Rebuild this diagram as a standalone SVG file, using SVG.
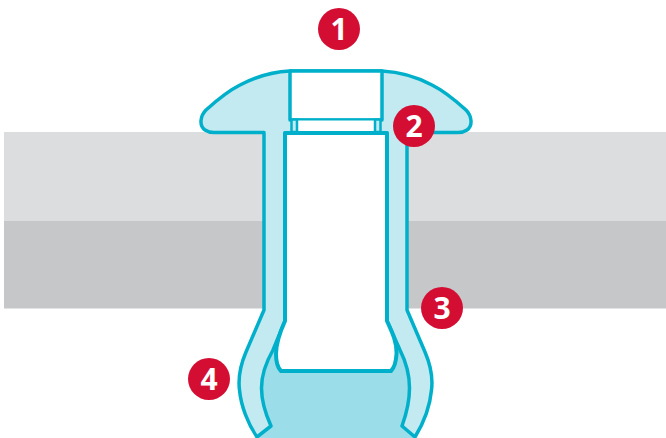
<svg xmlns="http://www.w3.org/2000/svg" width="666" height="438" viewBox="0 0 666 438">
<style>
.s{stroke:#00b0ca;stroke-linejoin:round;stroke-linecap:round}
.l{fill:#c3e9f1}
.d{fill:#9bdde9}
.w{fill:#fff}
.b{fill:#d40e33}
.t{fill:#fff;font-family:"Open Sans","Liberation Sans",sans-serif;font-weight:700;font-size:30px;text-anchor:middle}
</style>
<rect width="666" height="438" fill="#fff"/>
<rect x="4" y="132" width="662" height="89" fill="#dcddde"/>
<rect x="4" y="221" width="662" height="87.500" fill="#c6c7c9"/>
<g id="rivet">
<path class="d" d="M273 350C265 364 261.500 376 261.500 388C261.500 402 266 415 271 426L257 438H415L402 426C406 415 409.500 402 409.500 388C409.500 376 407 364 400 350L396 340L385 325H287L277 340Z"/>
<path class="s l" stroke-width="3.500" d="M290 71C270 72 255 77 240 85C228 91 217 100 206 110C200 116 199 126 205 130C208 132 211 132.500 214 132.500H264V310L246 352C240 366 238 378 239.500 390C241 406 248 424 257 437L271 426C266 415 261.500 402 261.500 388C261.500 376 265 364 273 350L285 321V133H387V321L400 350C407 364 409.500 376 409.500 388C409.500 402 406 415 402 426L415 437C423 424 430 406 431.500 390C433 378 431 366 425 352L407 310V132.500H458C461 132.500 464 132 467 130C473 126 472 116 466 110C455 100 444 91 432 85C417 77 402 72 382 71Z"/>
<path class="s w" stroke-width="3.500" d="M290 71H382V120H290Z"/>
<path class="w" d="M296 119H376V133H296Z"/>
<path class="s" fill="none" stroke-width="2" d="M297 119.500H375"/>
<path class="s l" stroke-width="2.500" d="M291.500 119.500H297V132H291.500ZM375 119.500H380.500V132H375Z"/>
<path class="s w" stroke-width="4" d="M285 133H387V321C392 332 397 342 396.500 354C396 362 394 368 391 371H281C278 368 276 362 276 354C276 342 280 332 285 321Z"/>
</g>
<g id="badge-1"><circle class="b" cx="339" cy="29" r="21"/><text class="t" x="339" y="40">1</text></g>
<g id="badge-2"><circle class="b" cx="414" cy="126" r="21"/><text class="t" x="414" y="137">2</text></g>
<g id="badge-3"><circle class="b" cx="442" cy="308" r="21"/><text class="t" x="442" y="319">3</text></g>
<g id="badge-4"><circle class="b" cx="209" cy="379" r="21"/><text class="t" x="209" y="390">4</text></g>
</svg>
